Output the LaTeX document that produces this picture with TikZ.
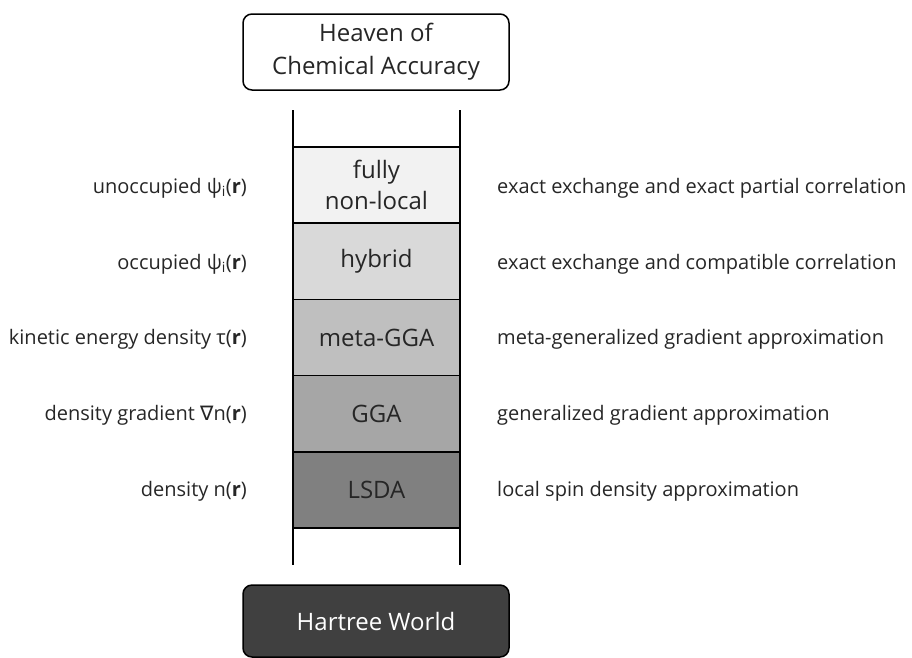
\documentclass[tikz,border=0pt]{standalone}
\usepackage{fontspec}
\setmainfont{Open Sans}
\newfontfamily\symf{DejaVu Sans}
\begin{document}
\begin{tikzpicture}[x=1pt,y=-1pt,
  endbox/.style={draw=black, line width=1.5pt, rounded corners=9pt, minimum width=266pt, minimum height=76pt, align=center, inner sep=0pt, font=\fontsize{24}{33}\selectfont},
  rung/.style={draw=black, line width=1.6pt, minimum width=167pt, minimum height=76.2pt, align=center, inner sep=0pt, font=\fontsize{24}{31}\selectfont},
  rail/.style={line width=1.5pt},
  lab/.style={font=\fontsize{20}{24}\selectfont, inner sep=0pt, text=black!85}
]
\useasboundingbox (0,0) rectangle (912,657);
\node[endbox, fill=white, text=black!85] (heaven) at (376,52) {Heaven of\\Chemical Accuracy};
\node[endbox, fill=black!75, text=white, minimum height=72pt] (hartree) at (376,621) {Hartree World};

\coordinate (lt) at (293,110);
\coordinate (lb) at (293,565);
\coordinate (rt) at (460,110);
\coordinate (rb) at (460,565);
\draw[rail] (lt) -- (lb);
\draw[rail] (rt) -- (rb);

\node[rung, fill=black!5, text=black!85] (full) at (376.5,185.1) {fully\\non-local};
\node[rung, fill=black!15, text=black!85] (hyb) at (376.5,261.3) {hybrid};
\node[rung, fill=black!25, text=black!85] (meta) at (376.5,337.5) {meta-GGA};
\node[rung, fill=black!35, text=black!85] (gga) at (376.5,413.7) {GGA};
\node[rung, fill=black!50, text=black!85] (lsda) at (376.5,489.9) {LSDA};

\node[lab, anchor=east] (l1) at (247,188) {unoccupied ψ\textsubscript{i}(\textbf{r})};
\node[lab, anchor=east] (l2) at (247,264) {occupied ψ\textsubscript{i}(\textbf{r})};
\node[lab, anchor=east] (l3) at (247,339) {kinetic energy density τ(\textbf{r})};
\node[lab, anchor=east] (l4) at (247,415) {density gradient {\symf ∇}n(\textbf{r})};
\node[lab, anchor=east] (l5) at (247,491) {density n(\textbf{r})};

\node[lab, anchor=west] (r1) at (497,188) {exact exchange and exact partial correlation};
\node[lab, anchor=west] (r2) at (497,264) {exact exchange and compatible correlation};
\node[lab, anchor=west] (r3) at (497,339) {meta-generalized gradient approximation};
\node[lab, anchor=west] (r4) at (497,415) {generalized gradient approximation};
\node[lab, anchor=west] (r5) at (497,491) {local spin density approximation};
\end{tikzpicture}
\end{document}
